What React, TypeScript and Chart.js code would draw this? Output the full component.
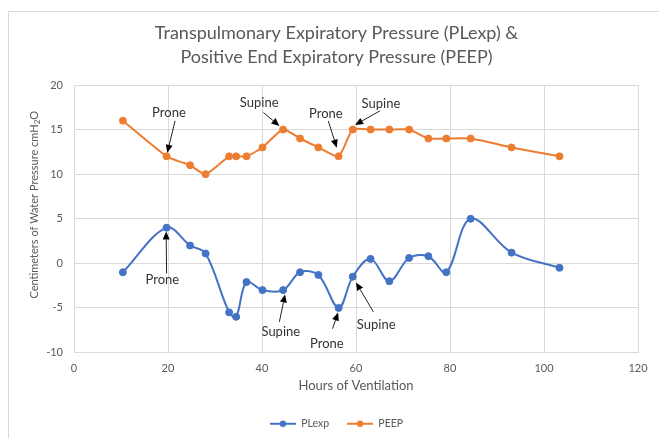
import React, { useEffect, useRef } from "react";
import { Chart, registerables } from "chart.js";

Chart.register(...registerables);

// ---- data ----
const hours = [10.4, 19.7, 24.7, 28.0, 33.0, 34.5, 36.7, 40.1, 44.5, 48.1, 52.0, 56.3, 59.3, 63.1, 67.1, 71.3, 75.4, 79.2, 84.4, 93.1, 103.3];
const plexpValues = [-1.0, 4.0, 2.0, 1.1, -5.5, -6.0, -2.1, -3.0, -3.0, -1.0, -1.3, -5.0, -1.5, 0.5, -2.0, 0.6, 0.8, -1.0, 5.0, 1.2, -0.5];
const peepValues = [16, 12, 11, 10, 12, 12, 12, 13, 15, 14, 13, 12, 15, 15, 15, 15, 14, 14, 14, 13, 12];
const seriesNames = ["PLexp", "PEEP"];
const titleLines = ["Transpulmonary Expiratory Pressure (PLexp) &", "Positive End Expiratory Pressure (PEEP)"];
const xAxisTitle = "Hours of Ventilation";
const yAxisTitleMain = "Centimeters of Water Pressure cmH";
const yAxisTitleSub = "2";
const yAxisTitleEnd = "O";
const xRange = [0, 120, 20];
const yRange = [-10, 20, 5];

// annotations in data units: label, label position, arrow tail, arrow tip
const annotationLabels = ["Prone", "Supine", "Prone", "Supine", "Prone", "Supine", "Prone", "Supine"];
const annotationText = [[20.2, 16.84], [39.4, 17.97], [53.6, 16.73], [65.3, 17.86], [18.8, -1.87], [44.0, -7.7], [53.8, -9.02], [64.3, -6.88]];
const annotationTail = [[21.5, 15.98], [40.3, 16.91], [54.1, 15.98], [65.1, 17.1], [19.7, -1.13], [43.7, -6.57], [55.0, -7.33], [63.7, -5.45]];
const annotationTip = [[19.85, 12.4], [43.7, 15.41], [55.9, 12.97], [59.8, 15.52], [19.6, 3.57], [44.9, -3.49], [56.2, -5.52], [60.0, -2.14]];

const FONT = "Lato, 'Open Sans', sans-serif";
const BLUE = "#4472C4";
const ORANGE = "#ED7D31";
const GRID = "#d9d9d9";
const TEXT = "#595959";

const arrowPlugin = {
  id: "arrowAnnotations",
  afterDraw(chart: any) {
    const { ctx, chartArea } = chart;
    // y-axis title with subscript
    ctx.save();
    const cx = chartArea.left - 40;
    const cy = (chartArea.top + chartArea.bottom) / 2 - 14;
    ctx.translate(cx, cy);
    ctx.rotate(-Math.PI / 2);
    ctx.fillStyle = TEXT;
    ctx.textBaseline = "middle";
    ctx.textAlign = "left";
    const mainFont = `11px ${FONT}`;
    const subFont = `8px ${FONT}`;
    ctx.font = mainFont;
    const w1 = ctx.measureText(yAxisTitleMain).width;
    const w3 = ctx.measureText(yAxisTitleEnd).width;
    ctx.font = subFont;
    const w2 = ctx.measureText(yAxisTitleSub).width;
    const total = w1 + w2 + w3;
    let px = -total / 2;
    ctx.font = mainFont;
    ctx.fillText(yAxisTitleMain, px, 0);
    px += w1;
    ctx.font = subFont;
    ctx.fillText(yAxisTitleSub, px, 3);
    px += w2;
    ctx.font = mainFont;
    ctx.fillText(yAxisTitleEnd, px, 0);
    ctx.restore();
  },
  afterDatasetsDraw(chart: any) {
    const { ctx, scales } = chart;
    const xs = scales.x;
    const ys = scales.y;
    ctx.save();
    annotationLabels.forEach((label, i) => {
      const tx = xs.getPixelForValue(annotationText[i][0]);
      const ty = ys.getPixelForValue(annotationText[i][1]);
      ctx.font = `13px ${FONT}`;
      ctx.fillStyle = "#333333";
      ctx.textAlign = "center";
      ctx.textBaseline = "middle";
      ctx.fillText(label, tx, ty);

      const x1 = xs.getPixelForValue(annotationTail[i][0]);
      const y1 = ys.getPixelForValue(annotationTail[i][1]);
      const x2 = xs.getPixelForValue(annotationTip[i][0]);
      const y2 = ys.getPixelForValue(annotationTip[i][1]);
      const ang = Math.atan2(y2 - y1, x2 - x1);
      const head = 8;
      const hw = 3.5;
      const bx = x2 - head * Math.cos(ang);
      const by = y2 - head * Math.sin(ang);
      ctx.strokeStyle = "#222222";
      ctx.lineWidth = 1;
      ctx.beginPath();
      ctx.moveTo(x1, y1);
      ctx.lineTo(bx, by);
      ctx.stroke();
      ctx.fillStyle = "#000";
      ctx.beginPath();
      ctx.moveTo(x2, y2);
      ctx.lineTo(bx + hw * Math.sin(ang), by - hw * Math.cos(ang));
      ctx.lineTo(bx - hw * Math.sin(ang), by + hw * Math.cos(ang));
      ctx.closePath();
      ctx.fill();
    });
    ctx.restore();
  },
};

function makeIcon(color: string) {
  const c = document.createElement("canvas");
  c.width = 26;
  c.height = 8;
  const g = c.getContext("2d")!;
  g.strokeStyle = color;
  g.lineWidth = 2;
  g.beginPath();
  g.moveTo(0, 4);
  g.lineTo(26, 4);
  g.stroke();
  g.fillStyle = color;
  g.beginPath();
  g.arc(13, 4, 3.2, 0, Math.PI * 2);
  g.fill();
  return c;
}

export default function App() {
  const ref = useRef<HTMLCanvasElement>(null);

  useEffect(() => {
    if (!ref.current) return;
    const icons = [makeIcon(BLUE), makeIcon(ORANGE)];
    const chart = new Chart(ref.current, {
      type: "line",
      data: {
        datasets: [
          {
            label: seriesNames[0],
            data: hours.map((h, i) => ({ x: h, y: plexpValues[i] })),
            borderColor: BLUE,
            backgroundColor: BLUE,
            borderWidth: 2,
            pointRadius: 3.5,
            pointBorderWidth: 1,
            tension: 0.35,
          },
          {
            label: seriesNames[1],
            data: hours.map((h, i) => ({ x: h, y: peepValues[i] })),
            borderColor: ORANGE,
            backgroundColor: ORANGE,
            borderWidth: 2,
            pointRadius: 3.5,
            pointBorderWidth: 1,
            tension: 0.2,
          },
        ],
      },
      options: {
        responsive: false,
        animation: false,
        layout: { padding: { left: 14, right: 0, top: 0, bottom: 0 } },
        scales: {
          x: {
            type: "linear",
            min: xRange[0],
            max: xRange[1],
            ticks: { stepSize: xRange[2], color: TEXT, font: { family: FONT, size: 11 }, padding: 9 },
            grid: { color: GRID, drawTicks: false },
            border: { color: GRID },
            title: {
              display: true,
              text: xAxisTitle,
              color: TEXT,
              font: { family: FONT, size: 13 },
              padding: { top: 0, bottom: 7 },
            },
            afterFit(s: any) {
              s.height = 48;
            },
          },
          y: {
            type: "linear",
            min: yRange[0],
            max: yRange[1],
            ticks: { stepSize: yRange[2], color: TEXT, font: { family: FONT, size: 11 }, padding: 11 },
            grid: { color: GRID, drawTicks: false },
            border: { color: GRID },
            title: { display: false },
            afterFit(s: any) {
              s.width = 60;
            },
          },
          y2: {
            type: "linear",
            position: "right",
            min: 0,
            max: 1,
            display: true,
            grid: { display: false, drawTicks: false },
            ticks: { display: false },
            border: { display: false },
            afterFit(s: any) {
              s.width = 21;
            },
          },
        },
        plugins: {
          title: {
            display: true,
            text: titleLines,
            color: TEXT,
            font: { family: FONT, size: 18, weight: "normal", lineHeight: "24px" },
            padding: { top: 21, bottom: 16 },
          },
          legend: {
            position: "bottom",
            labels: {
              usePointStyle: true,
              pointStyleWidth: 26,
              padding: 18,
              color: TEXT,
              font: { family: FONT, size: 10.5 },
              generateLabels(c: any) {
                const items = (Chart as any).defaults.plugins.legend.labels.generateLabels(c);
                items.forEach((it: any, i: number) => {
                  it.pointStyle = icons[i];
                });
                return items;
              },
            },
          },
          tooltip: { enabled: false },
        },
      } as any,
      plugins: [arrowPlugin],
    });
    return () => chart.destroy();
  }, []);

  return (
    <div style={{ position: "fixed", left: 0, top: 0, width: 659, height: 438, overflow: "hidden", background: "#fff" }}>
      <div
        style={{
          position: "absolute",
          left: 8,
          top: 11,
          width: 720,
          height: 520,
          border: "1px solid #d9d9d9",
          boxSizing: "border-box",
        }}
      />
      <canvas ref={ref} width={659} height={439} style={{ position: "absolute", left: 0, top: 0 }} />
    </div>
  );
}
